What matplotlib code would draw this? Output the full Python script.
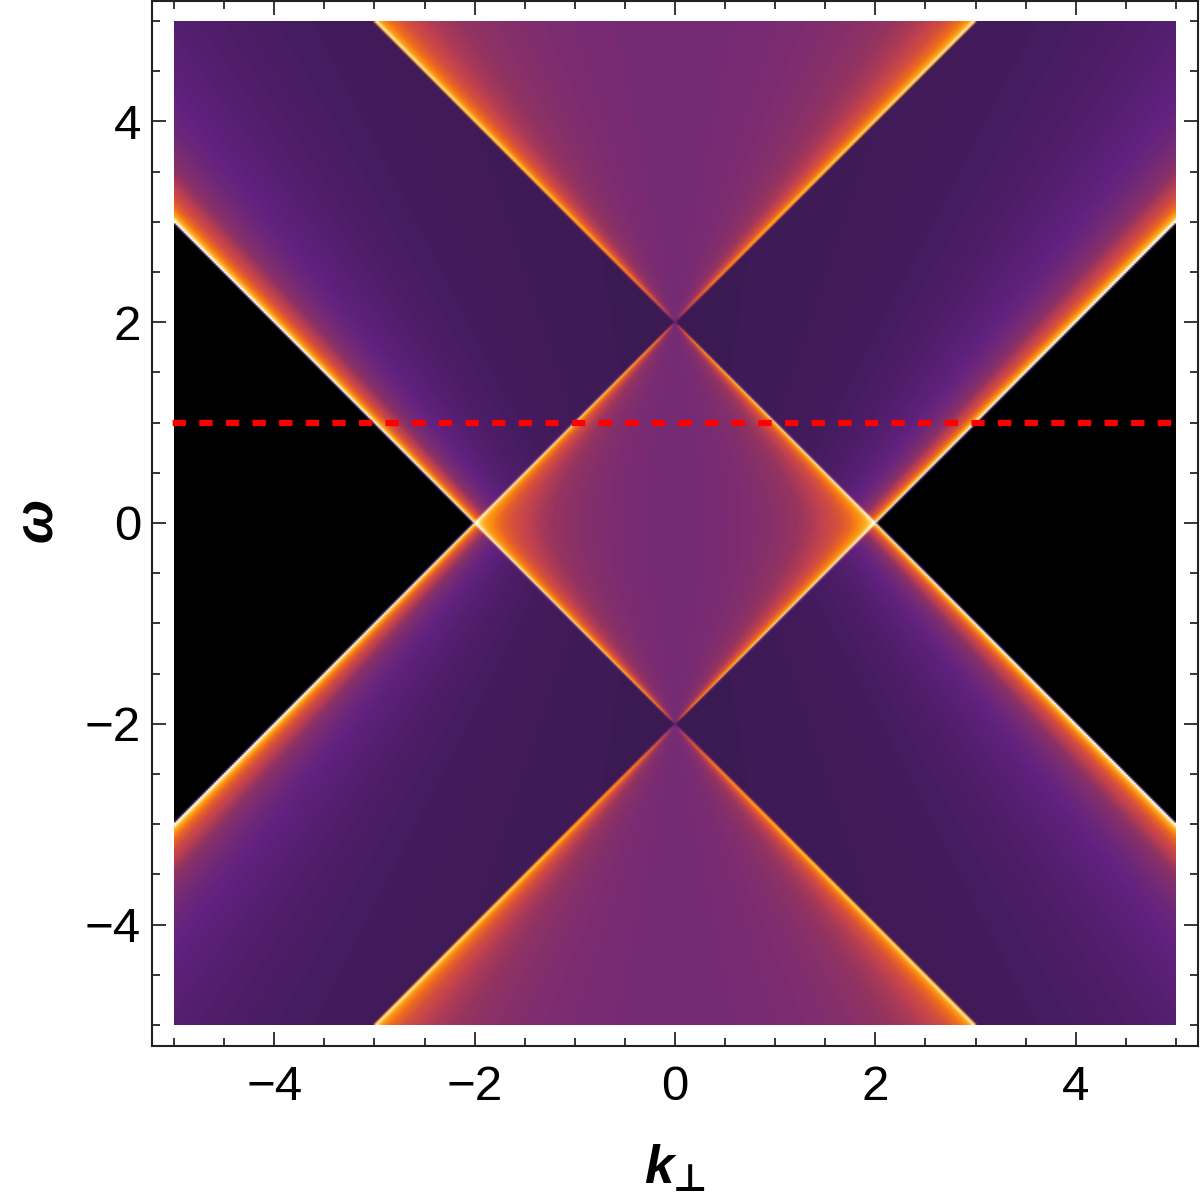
import numpy as np
import matplotlib
matplotlib.use("Agg")
import matplotlib.pyplot as plt
from matplotlib.colors import LinearSegmentedColormap

plt.rcParams['font.family'] = ['Liberation Sans', 'DejaVu Sans']

# cone apexes on the omega axis
apex_omega = [2.0, -2.0]

# brightness of one cone against |k| / |omega - apex|
cone_ratio = [0.0, 0.2, 0.4, 0.5, 0.6, 0.7, 0.8, 0.85, 0.9, 0.95, 0.97, 0.98, 0.99, 0.995, 0.998, 0.999, 1.0]
cone_level = [1.0, 1.02, 1.09, 1.15, 1.25, 1.4, 1.67, 1.9, 2.3, 3.2, 4.1, 5.0, 7.1, 10.0, 15.8, 22.0, 40.0]

# colour scale
level_stops = [0.0, 1.0, 1.67, 2.0, 2.5, 3.0, 4.0, 5.0, 7.0, 9.5, 13.0]
level_colors = ['#000000', '#3d1a55', '#632280', '#762b74', '#96345f', '#c5434c',
                '#ea6424', '#f98a10', '#fdb52c', '#fde27a', '#ffffff']

k_ticks_major = [-4, -2, 0, 2, 4]
k_ticks_minor = [-5, -4.5, -3.5, -3, -2.5, -1.5, -1, -0.5, 0.5, 1, 1.5, 2.5, 3, 3.5, 4.5, 5]

cut_k = [-5.05, 5.05]
cut_omega = [1.0, 1.0]

# fine sampling at cell centres, averaged down so the ridges stay continuous
cells = 501
sub = 6
n = cells * sub
edges = np.linspace(-5, 5, n + 1)
centres = (edges[:-1] + edges[1:]) / 2
K, W = np.meshgrid(centres, centres)

Z = np.zeros_like(K)
for w0 in apex_omega:
    d = np.abs(W - w0)
    r = np.abs(K) / np.maximum(d, 1e-9)
    part = np.interp(r, cone_ratio, cone_level)
    part[r >= 1] = 0.0  # nothing outside the cone
    Z += part
Z = Z.reshape(cells, sub, cells, sub).mean(axis=(1, 3))

cmap = LinearSegmentedColormap.from_list(
    'sunset', [(s / level_stops[-1], c) for s, c in zip(level_stops, level_colors)])

fig = plt.figure(figsize=(12, 11.97), dpi=100)
ax = fig.add_axes([152 / 1200, 1 - 1046 / 1197, 1046 / 1200, 1045 / 1197])
ax.imshow(Z, extent=[-5, 5, -5, 5], origin='lower', cmap=cmap, vmin=0, vmax=level_stops[-1],
          interpolation='bilinear', aspect='auto')
ax.plot(cut_k, cut_omega, color='#ff0000', lw=4.5, linestyle=(3.68, (2.13, 2.13)),
        dash_capstyle='butt', clip_on=False, zorder=5)

ax.set_xlim(-5.22, 5.22)
ax.set_ylim(-5.21, 5.2)
for a in (ax.xaxis, ax.yaxis):
    a.set_ticks(k_ticks_major)
    a.set_ticks(k_ticks_minor, minor=True)
ax.tick_params(which='major', direction='in', length=10, width=1.1, top=True, right=True, labelsize=35.5)
ax.tick_params(which='minor', direction='in', length=6, width=1.1, top=True, right=True)
ax.tick_params(axis='x', which='major', pad=14)
ax.tick_params(axis='y', which='major', pad=8)
for s in ax.spines.values():
    s.set_linewidth(1.5)
    s.set_color('#222222')

fig.text(659 / 1200, 1 - 1183 / 1197, 'k', fontsize=38, fontweight='bold', fontstyle='italic',
         ha='center', va='baseline')
fig.text(690 / 1200, 1 - 1191 / 1197, '\u22a5', family='DejaVu Sans', fontsize=27, fontweight='bold',
         ha='center', va='baseline')
fig.text(37 / 1200, 1 - 520 / 1197, '\u03c9', fontsize=38, fontweight='bold', fontstyle='italic',
         rotation=90, ha='center', va='center')

fig.savefig('out.png', dpi=100)
